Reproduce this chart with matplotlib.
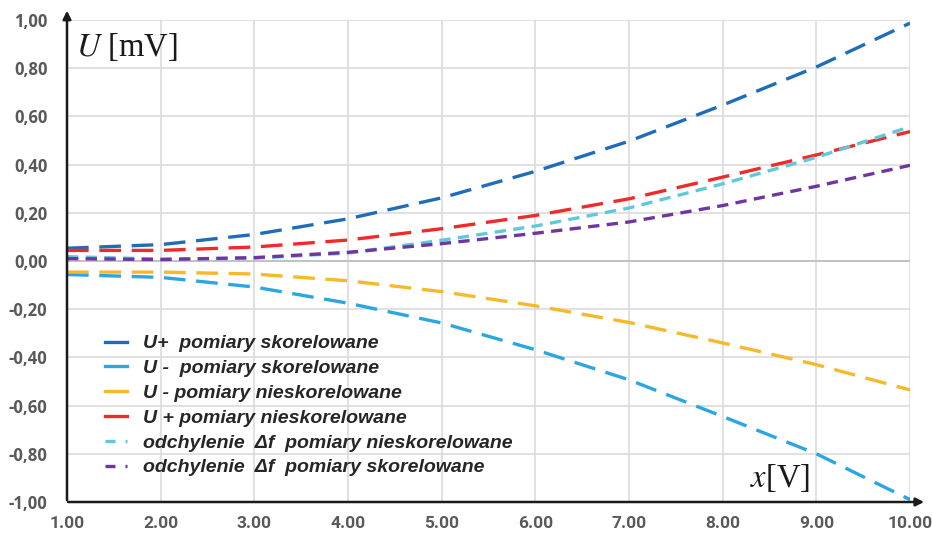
import matplotlib
matplotlib.use("Agg")
import matplotlib.pyplot as plt
from matplotlib.lines import Line2D

x = [1, 2, 3, 4, 5, 6, 7, 8, 9, 10]
u_plus_skor = [0.053, 0.068, 0.11, 0.175, 0.262, 0.372, 0.497, 0.647, 0.805, 0.987]
u_minus_skor = [-0.056, -0.068, -0.108, -0.175, -0.257, -0.368, -0.493, -0.645, -0.80, -0.99]
u_minus_nieskor = [-0.046, -0.046, -0.054, -0.082, -0.127, -0.186, -0.255, -0.34, -0.43, -0.535]
u_plus_nieskor = [0.044, 0.044, 0.058, 0.087, 0.134, 0.189, 0.258, 0.348, 0.44, 0.537]
odch_nieskor = [0.018, 0.008, 0.012, 0.033, 0.086, 0.145, 0.22, 0.32, 0.43, 0.557]
odch_skor = [0.01, 0.006, 0.014, 0.036, 0.072, 0.115, 0.162, 0.23, 0.31, 0.397]

labels = ["U+  pomiary skorelowane",
          "U -  pomiary skorelowane",
          "U - pomiary nieskorelowane",
          "U + pomiary nieskorelowane",
          "odchylenie  \u0394f  pomiary nieskorelowane",
          "odchylenie  \u0394f  pomiary skorelowane"]
colors = ["#1F6CBA", "#2AA6E0", "#F7B829", "#F02A2A", "#5FC8DC", "#6F35A0"]
yticks = [-1.0, -0.8, -0.6, -0.4, -0.2, 0.0, 0.2, 0.4, 0.6, 0.8, 1.0]

plt.rcParams["mathtext.fontset"] = "stix"

fig = plt.figure(figsize=(9.32, 5.34), dpi=100)
ax = fig.add_axes([67/932, 1 - 502/534, (910 - 67)/932, (502 - 20)/534])
ax.set_xlim(1, 10)
ax.set_ylim(-1, 1)

for s in ax.spines.values():
    s.set_visible(False)

ax.set_xticks(x)
ax.set_yticks(yticks)
ax.grid(True, color="#DCDCDC", lw=1.2)
ax.set_axisbelow(True)
ax.axhline(0, color="#BFBFBF", lw=1.3, zorder=1)

series = [u_plus_skor, u_minus_skor, u_minus_nieskor, u_plus_nieskor, odch_nieskor, odch_skor]
dashes = [(6.5, 3.2), (6.5, 3.2), (6.5, 3.2), (6.5, 3.2), (3.4, 2.2), (3.4, 2.2)]
for s, c, d in zip(series, colors, dashes):
    ax.plot(x, s, color=c, lw=2.4, dashes=d, zorder=3, dash_capstyle="butt")

ax.tick_params(length=0)
ax.set_yticklabels([f"{v:.2f}".replace(".", ",") for v in yticks],
                   fontsize=12, fontweight="bold", color="#595959",
                   family=["Open Sans", "DejaVu Sans"])
ax.set_xticklabels([f"{v:.2f}" for v in x], fontsize=12.5, fontweight="bold",
                   color="#595959", family=["Roboto", "DejaVu Sans"])
ax.tick_params(axis="y", pad=14)
ax.tick_params(axis="x", pad=10)

# axes arrows
ax.annotate("", xy=(0, 1.025), xytext=(0, -0.002), xycoords="axes fraction",
            arrowprops=dict(arrowstyle="-|>", color="#1a1a1a", lw=1.8, mutation_scale=12),
            annotation_clip=False)
ax.annotate("", xy=(1.02, 0), xytext=(-0.002, 0), xycoords="axes fraction",
            arrowprops=dict(arrowstyle="-|>", color="#1a1a1a", lw=1.8, mutation_scale=12),
            annotation_clip=False)

fig.text(76/932, 1 - 47/534, "$U$ [mV]", fontsize=23.5, family="Liberation Serif",
         va="center", ha="left", color="#1a1a1a")
fig.text(750/932, 1 - 478/534, "$x$[V]", fontsize=23.5, family="Liberation Serif",
         va="center", ha="left", color="#1a1a1a")

handles = []
for i, c in enumerate(colors):
    if i < 4:
        handles.append(Line2D([], [], color=c, lw=2.4))
    else:
        handles.append(Line2D([], [], color=c, lw=2.4, dashes=(3.0, 3.0)))
leg = ax.legend(handles, labels, loc="upper left", bbox_to_anchor=(0.045, 0.347),
                frameon=False, handlelength=1.15, handletextpad=0.8, labelspacing=0.37,
                borderpad=0, borderaxespad=0,
                prop=dict(size=14, weight="bold", style="italic", family="Liberation Sans"))
for t in leg.get_texts():
    t.set_color("#262626")

fig.savefig("out.png", dpi=100)
